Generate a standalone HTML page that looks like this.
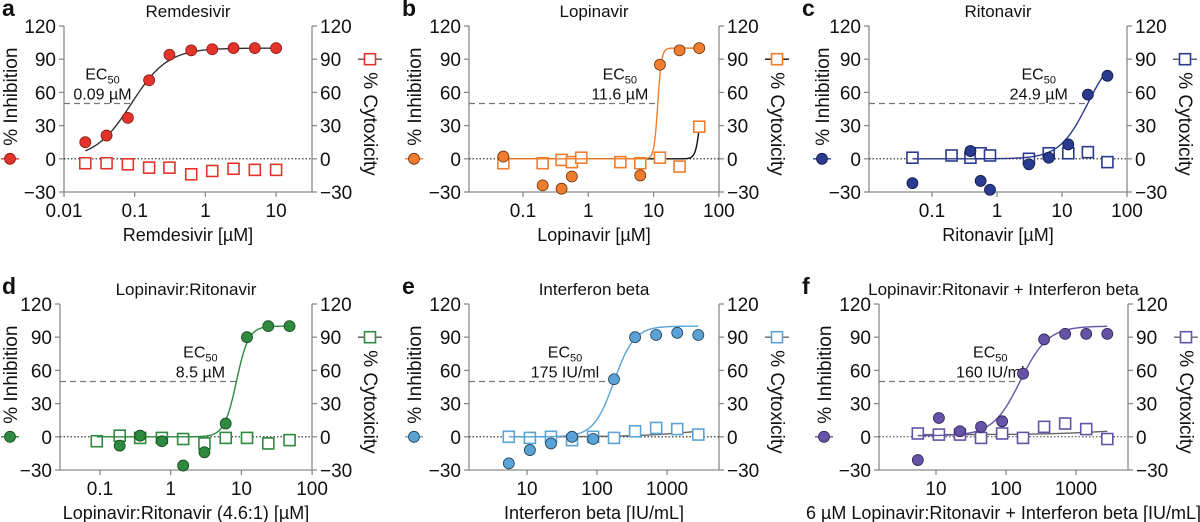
<!DOCTYPE html>
<html><head><meta charset="utf-8"><style>
body{margin:0;background:#fff;}
svg{display:block;font-family:"Liberation Sans",Arial,sans-serif;}
</style></head><body>
<svg id="fig" width="1200" height="522" viewBox="0 0 1200 522" xmlns="http://www.w3.org/2000/svg"></svg>
<script>
// ---- data per panel ----
const aX=[0.02,0.04,0.08,0.16,0.31,0.63,1.25,2.5,5,10];
const aInhib=[15,21,37,71,94,98,99,100,100,100];
const aCytoX=[0.02,0.04,0.08,0.16,0.31,0.63,1.25,2.5,5,10];
const aCyto=[-4,-4,-5,-8,-8,-14,-11,-9,-10,-10];
const aFit=[0.09,1.7,0,100];

const bX=[0.05,0.2,0.39,0.56,6.25,12.5,25,50];
const bInhib=[2,-24,-27,-16,-15,85,98,100];
const bCytoX=[0.05,0.2,0.39,0.56,0.78,3.1,6.25,12.5,25,50];
const bCyto=[-4,-4,-1,-3,1,-3,-4,1,-7,29];
const bFit=[11.6,15,0,100];
const bCytoFit=[53.9,12,0,100];

const cX=[0.05,0.39,0.56,0.78,3.1,6.25,12.5,25,50];
const cInhib=[-22,7,-20,-28,-5,1,13,58,75];
const cCytoX=[0.05,0.2,0.39,0.56,0.78,3.1,6.25,12.5,25,50];
const cCyto=[1,3,1,5,3,0,5,5,6,-3];
const cFit=[24.9,2,0,100];

const dX=[0.19,0.37,0.75,1.5,3,6,12,24,48];
const dInhib=[-8,1,-4,-26,-14,12,90,100,100];
const dCytoX=[0.09,0.19,0.37,0.75,1.5,3,6,12,24,48];
const dCyto=[-4,1,-1,-1,-2,-6,-1,-1,-6,-3];
const dFit=[8.5,5,0,100];

const eX=[5.5,11,22,44,88,175,350,700,1400,2800];
const eInhib=[-24,-12,-6,0,-2,52,90,92,94,92];
const eCytoX=[5.5,11,22,44,88,175,350,700,1400,2800];
const eCyto=[0,-1,0,-3,0,-1,5,8,7,2];
const eFit=[175,3,0,100];
const eCytoFit=[2800,1,0,10];

const fX=[5.5,11,22,44,88,175,350,700,1400,2800];
const fInhib=[-21,17,5,9,14,57,88,93,93,93];
const fCytoX=[5.5,11,22,44,88,175,350,700,1400,2800];
const fCyto=[3,2,2,-1,3,-1,9,12,7,-2];
const fFit=[160,2.2,1,100];
const fCytoFit=[2800,1,2,8];

const yTicks=[120,90,60,30,0,-30];
const aTicks=["0.01","0.1","1","10"];
const bTicks=["0.1","1","10","100"];
const eTicks=["10","100","1000"];

const NS="http://www.w3.org/2000/svg";
const svg=document.getElementById('fig');
function mk(tag,attrs,parent,txt){const e=document.createElementNS(NS,tag);for(const k in attrs)e.setAttribute(k,attrs[k]);if(txt!==undefined)e.textContent=txt;(parent||svg).appendChild(e);return e;}
function hill(x,p){const r=Math.pow(x/p[0],p[1]);return p[2]+(p[3]-p[2])*r/(1+r);}

const panels=[
 {id:'a',letter:'a',ox:0,lx:10,title:'Remdesivir',xl:'Remdesivir [µM]',col:'#e2342b',dark:'#8a1a14',top:26,left:64,right:312,ref:0.01,refX:64,dec:70.7,ticks:aTicks,
  x:aX,y:aInhib,cx:aCytoX,cy:aCyto,fit:aFit,fx0:0.02,fx1:10,ec:'0.09 µM',lo:-29,cfit:null},
 {id:'b',letter:'b',ox:400,lx:414,title:'Lopinavir',xl:'Lopinavir [µM]',col:'#f07d2c',dark:'#6b3310',top:26,left:469,right:719,ref:0.1,refX:523,dec:65.3,ticks:bTicks,
  x:bX,y:bInhib,cx:bCytoX,cy:bCyto,fit:bFit,fx0:0.05,fx1:50,ec:'11.6 µM',lo:-38,cfit:bCytoFit,ccol:'#111',c0:0.05,c1:50},
 {id:'c',letter:'c',ox:800,lx:822,title:'Ritonavir',xl:'Ritonavir [µM]',col:'#2a3a8e',dark:'#121a48',top:26,left:869,right:1127,ref:0.1,refX:932,dec:65,ticks:bTicks,
  x:cX,y:cInhib,cx:cCytoX,cy:cCyto,fit:cFit,fx0:0.05,fx1:50,ec:'24.9 µM',lo:-49,cfit:null},
 {id:'d',letter:'d',ox:0,lx:10,title:'Lopinavir:Ritonavir',xl:'Lopinavir:Ritonavir (4.6:1) [µM]',col:'#2e8a3e',dark:'#144a1c',top:304,left:60,right:312,ref:0.1,refX:100,dec:70.7,ticks:bTicks,
  x:dX,y:dInhib,cx:dCytoX,cy:dCyto,fit:dFit,fx0:0.09,fx1:48,ec:'8.5 µM',lo:-36,cfit:null},
 {id:'e',letter:'e',ox:400,lx:414,title:'Interferon beta',xl:'Interferon beta [IU/mL]',col:'#5aa3d6',dark:'#233d52',top:304,left:469,right:719,ref:10,refX:527,dec:70,ticks:eTicks,
  x:eX,y:eInhib,cx:eCytoX,cy:eCyto,fit:eFit,fx0:5.5,fx1:2800,ec:'175 IU/ml',lo:-49,cfit:eCytoFit,ccol:'#666',c0:5.5,c1:2800},
 {id:'f',letter:'f',ox:800,lx:824,title:'Lopinavir:Ritonavir + Interferon beta',xl:'6 µM Lopinavir:Ritonavir + Interferon beta [IU/mL]',col:'#6553a8',dark:'#2c2350',top:304,left:879,right:1128,ref:10,refX:936,dec:70,ticks:eTicks,
  x:fX,y:fInhib,cx:fCytoX,cy:fCyto,fit:fFit,fx0:5.5,fx1:2800,ec:'160 IU/ml',lo:-30,cfit:fCytoFit,ccol:'#666',c0:5.5,c1:2800,thinZero:true}
];

panels.forEach(p=>{
 const g=mk('g',{});
 
 
 const H=166, top=p.top, bot=top+H;
 const Y=v=>bot-(v+30)/150*H;
 const X=v=>p.refX+Math.log10(v/p.ref)*p.dec;
 const mid=(p.left+p.right)/2;
 const L=mk('text',{x:p.ox+2,y:top-10,'font-size':23,'font-weight':'bold',fill:'#111'},g,p.letter);
  
 const T=mk('text',{x:mid,y:top-9,'font-size':17,'text-anchor':'middle',fill:'#111'},g,p.title);
  
 const ax=mk('path',{d:`M${p.left},${top}V${bot}H${p.right}M${p.right},${top}V${bot}`,stroke:'#8a8a8a','stroke-width':1.3,fill:'none'},g);
  
 yTicks.forEach(t=>{
  const yy=Y(t);
  mk('line',{x1:p.left-5,x2:p.left,y1:yy,y2:yy,stroke:'#8a8a8a','stroke-width':1.3},g);
  mk('line',{x1:p.right,x2:p.right+5,y1:yy,y2:yy,stroke:'#8a8a8a','stroke-width':1.3},g);
  const lab=t<0?'\u2212'+(-t):''+t;
  const tl=mk('text',{x:p.left-8,y:yy+7,'font-size':19,'text-anchor':'end',fill:'#111'},g,lab);
   
  const tr=mk('text',{x:p.right+8,y:yy+7,'font-size':19,'text-anchor':'start',fill:'#111'},g,lab);
   
 });
 p.ticks.forEach(t=>{
  const xx=X(parseFloat(t));
  mk('line',{x1:xx,x2:xx,y1:bot,y2:bot+5,stroke:'#8a8a8a','stroke-width':1.3},g);
  const tx=mk('text',{x:xx,y:bot+25,'font-size':19,'text-anchor':'middle',fill:'#111'},g,t);
   
 });
 const xt=mk('text',{x:mid,y:bot+49,'font-size':18,'text-anchor':'middle',fill:'#111'},g,p.xl);
  
 const yc=Y(0);
 const yl=mk('text',{x:0,y:0,'font-size':19,'text-anchor':'start',fill:'#111',transform:`translate(${p.lx+7},${yc-13}) rotate(-90)`},g,'% Inhibition');
  
 mk('line',{x1:p.lx-9,x2:p.lx+9,y1:yc,y2:yc,stroke:p.col,'stroke-width':1.3},g);
 const lm=mk('circle',{cx:p.lx,cy:yc,r:5.5,fill:p.col,stroke:p.dark,'stroke-width':0.8},g);
  
 const rx=p.right+58;
 const ry=Y(90);
 mk('line',{x1:rx-12,x2:rx+12,y1:ry,y2:ry,stroke:p.cfit?(p.ccol):'#555','stroke-width':1.3},g);
 const rm=mk('rect',{x:rx-5.5,y:ry-5.5,width:11,height:11,fill:'#fff',stroke:p.col,'stroke-width':1.6},g);
  
 const y2=mk('text',{x:0,y:0,'font-size':19,'text-anchor':'start',fill:'#111',transform:`translate(${rx-6},${ry+13}) rotate(90)`},g,'% Cytoxicity');
  
 const z=mk('line',{x1:p.left,x2:p.right,y1:yc,y2:yc,stroke:'#222','stroke-width':p.thinZero?0.8:1.2,'stroke-dasharray':'1.5,2'},g);
  
 const xe=X(p.fit[0]), y50=Y(50);
 const dl=mk('line',{x1:p.left,x2:xe,y1:y50,y2:y50,stroke:'#777','stroke-width':1.2,'stroke-dasharray':'6,4'},g);
  
 const et=mk('text',{x:xe+p.lo,y:y50-24,'font-size':16,'text-anchor':'middle',fill:'#111'},g);
  
 et.appendChild(document.createTextNode('EC'));
 mk('tspan',{'font-size':11,dy:4},et,'50');
 const ev=mk('text',{x:xe+p.lo,y:y50-4,'font-size':16,'text-anchor':'middle',fill:'#111'},g,p.ec);
  
 function curve(par,x0,x1,col,name){
  let d='';const n=200;
  for(let i=0;i<=n;i++){const lx=Math.log10(x0)+(Math.log10(x1)-Math.log10(x0))*i/n;const v=Math.pow(10,lx);d+=(i?'L':'M')+X(v).toFixed(2)+','+Y(hill(v,par)).toFixed(2);}
  const c=mk('path',{d:d,fill:'none',stroke:col,'stroke-width':1.4},g);
   
 }
 if(p.cfit) curve(p.cfit,p.c0,p.c1,p.ccol,'cytotoxicity-fit-curve');
 p.cx.forEach((v,i)=>{
  const s=mk('rect',{x:X(v)-5.5,y:Y(p.cy[i])-5.5,width:11,height:11,fill:'#fff',stroke:p.col,'stroke-width':1.6},g);
   
 });
 curve(p.fit,p.fx0,p.fx1,p.id==='a'?'#333':p.col,'inhibition-fit-curve');
 p.x.forEach((v,i)=>{
  const c=mk('circle',{cx:X(v),cy:Y(p.y[i]),r:5.5,fill:p.col,stroke:p.dark,'stroke-width':0.8},g);
   
 });
});
</script>
</body></html>
